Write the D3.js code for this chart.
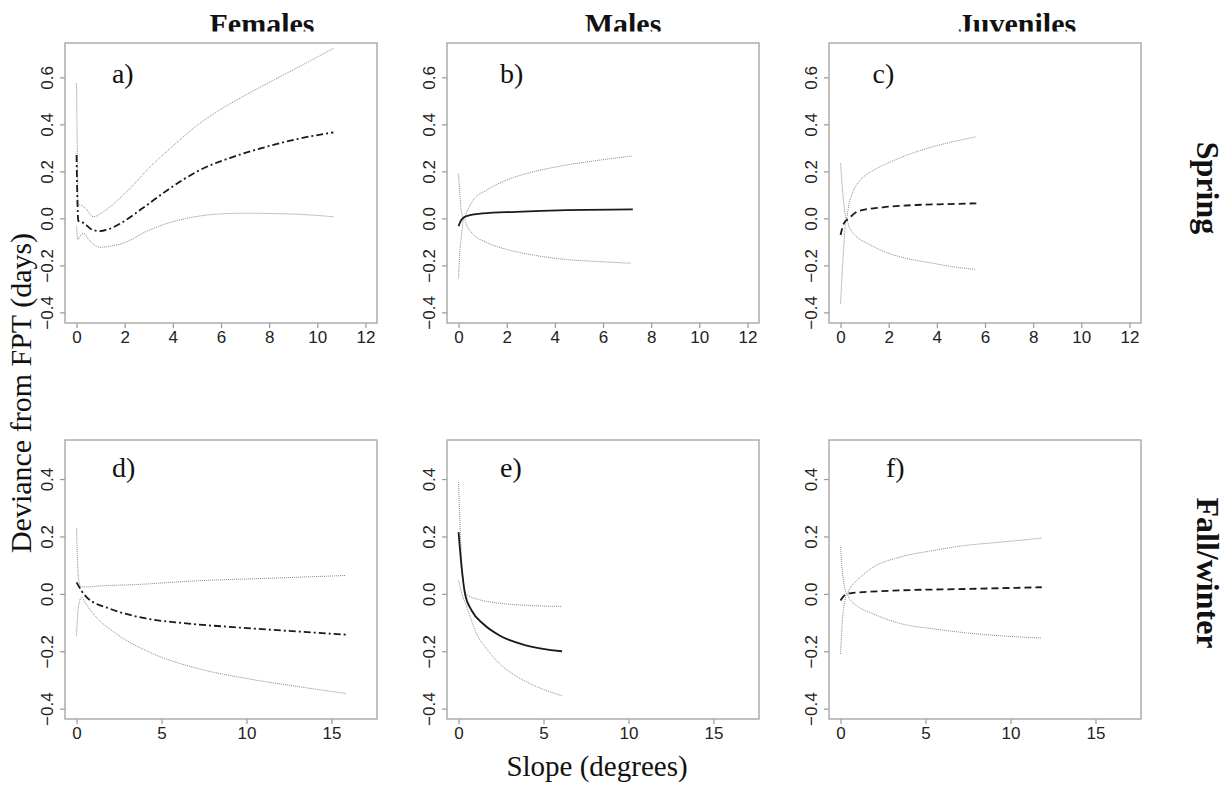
<!DOCTYPE html>
<html>
<head>
<meta charset="utf-8">
<script src="https://cdnjs.cloudflare.com/ajax/libs/d3/7.8.5/d3.min.js"></script>
<style>
  body { margin: 0; background: #fff; }
  svg { display: block; }
</style>
</head>
<body>
<svg width="1230" height="788"></svg>
<script>
// column titles / row titles
const groups = ["Females", "Males", "Juveniles"];
const seasons = ["Spring", "Fall/winter"];
const panelLetters = ["a)", "b)", "c)", "d)", "e)", "f)"];

// axis limits (R style, padded 4% on each side) and ticks per row
const xLims = [[0, 12], [0, 17]];
const yLims = [[-0.401, 0.702], [-0.4, 0.5]];
const xTicks = [[0, 2, 4, 6, 8, 10, 12], [0, 5, 10, 15]];
const yTicks = [[-0.4, -0.2, 0.0, 0.2, 0.4, 0.6], [-0.4, -0.2, 0.0, 0.2, 0.4]];

// [slope, deviance]
// a) females, spring
const aUpper = [[0, 0.575], [0.03, 0.3], [0.06, 0.06], [0.2, 0.055], [0.4, 0.04], [0.69, 0.007], [1.0, 0.02],
  [1.39, 0.049], [2.08, 0.113], [3.05, 0.218], [4.02, 0.31], [5.13, 0.405], [5.96, 0.462], [7.48, 0.55],
  [9.0, 0.632], [10.67, 0.723]];
const aFit = [[0, 0.27], [0.03, 0.1], [0.07, -0.01], [0.3, -0.02], [0.6, -0.045], [0.97, -0.054], [1.3, -0.047],
  [1.8, -0.023], [2.77, 0.045], [3.74, 0.118], [5.13, 0.206], [6.51, 0.262], [7.9, 0.305], [9.28, 0.34],
  [10.67, 0.366]];
const aLower = [[0, -0.035], [0.05, -0.09], [0.15, -0.075], [0.3, -0.064], [0.5, -0.09], [0.97, -0.123],
  [1.4, -0.118], [2.08, -0.1], [2.77, -0.062], [3.74, -0.022], [4.57, 0.0], [5.82, 0.018], [7.0, 0.022],
  [7.9, 0.021], [9.28, 0.017], [10.67, 0.007]];
// b) males, spring
const bUpper = [[0, 0.19], [0.05, 0.106], [0.12, 0.03], [0.22, 0.0], [0.35, 0.03], [0.61, 0.078], [1.16, 0.12],
  [2.0, 0.163], [3.1, 0.198], [4.49, 0.227], [5.87, 0.248], [7.19, 0.265]];
const bFit = [[0, -0.033], [0.12, -0.006], [0.33, 0.01], [1.0, 0.021], [2.38, 0.028], [4.49, 0.035], [7.24, 0.038]];
const bLower = [[0, -0.255], [0.05, -0.149], [0.13, -0.064], [0.22, 0.0], [0.35, -0.032], [0.61, -0.068],
  [1.16, -0.102], [2.0, -0.132], [3.1, -0.156], [4.49, -0.175], [5.87, -0.184], [7.19, -0.191]];
// c) juveniles, spring
const cUpper = [[0, 0.234], [0.1, 0.1], [0.24, 0.0], [0.35, 0.06], [0.5, 0.11], [0.75, 0.155], [1.07, 0.186],
  [1.5, 0.212], [1.9, 0.232], [2.73, 0.268], [3.84, 0.305], [4.67, 0.326], [5.61, 0.347]];
const cFit = [[0, -0.071], [0.14, -0.021], [0.35, 0.0], [0.72, 0.03], [1.76, 0.047], [3.15, 0.057], [4.53, 0.061],
  [5.64, 0.064]];
const cLower = [[0, -0.362], [0.1, -0.177], [0.24, 0.0], [0.35, -0.035], [0.5, -0.06], [0.75, -0.085],
  [1.07, -0.104], [1.9, -0.145], [2.73, -0.17], [3.84, -0.191], [4.67, -0.206], [5.61, -0.217]];
// d) females, fall/winter
const dUpper = [[0, 0.227], [0.1, 0.06], [0.25, 0.025], [0.5, 0.024], [1.5, 0.028], [3.34, 0.032], [7.27, 0.046],
  [11.19, 0.054], [15.84, 0.064]];
const dFit = [[0, 0.04], [0.3, 0.01], [0.6, -0.012], [1.97, -0.052], [3.93, -0.084], [6.28, -0.102],
  [9.23, -0.116], [12.17, -0.128], [15.84, -0.142]];
const dLower = [[0, -0.146], [0.1, -0.05], [0.3, -0.012], [0.5, -0.03], [0.99, -0.07], [2.36, -0.14],
  [4.32, -0.204], [7.27, -0.262], [10.21, -0.297], [13.15, -0.324], [15.84, -0.347]];
// e) males, fall/winter
const eUpper = [[0, 0.39], [0.1, 0.22], [0.25, 0.06], [0.45, 0.0], [0.7, -0.01], [1.07, -0.018], [2.44, -0.033],
  [4.4, -0.041], [6.09, -0.044]];
const eFit = [[0, 0.215], [0.18, 0.093], [0.38, 0.0], [0.77, -0.058], [1.46, -0.105], [2.44, -0.146],
  [4.01, -0.18], [6.09, -0.2]];
const eLower = [[0, 0.046], [0.2, 0.0], [0.45, -0.04], [1.07, -0.14], [1.7, -0.195], [2.44, -0.245],
  [3.3, -0.283], [4.4, -0.318], [6.09, -0.355]];
// f) juveniles, fall/winter
const fUpper = [[0, 0.163], [0.1, 0.08], [0.25, 0.02], [0.36, 0.0], [0.55, 0.02], [0.95, 0.046], [1.93, 0.093],
  [3.5, 0.128], [5.46, 0.151], [7.42, 0.169], [9.39, 0.18], [11.84, 0.194]];
const fFit = [[0, -0.023], [0.25, -0.004], [0.55, 0.002], [3.5, 0.012], [7.42, 0.017], [11.84, 0.023]];
const fLower = [[0, -0.209], [0.1, -0.1], [0.25, -0.025], [0.36, 0.0], [0.55, -0.02], [0.95, -0.041],
  [1.93, -0.07], [3.5, -0.103], [5.46, -0.122], [7.42, -0.136], [9.39, -0.146], [11.84, -0.154]];

// where the panel letter sits, in data units
const letterPos = [[1.47, 0.576], [1.72, 0.576], [1.33, 0.576], [2.09, 0.406], [2.44, 0.406], [2.67, 0.406]];

const panels = [
  { upper: aUpper, fit: aFit, lower: aLower, style: "dashdot" },
  { upper: bUpper, fit: bFit, lower: bLower, style: "solid" },
  { upper: cUpper, fit: cFit, lower: cLower, style: "dashed" },
  { upper: dUpper, fit: dFit, lower: dLower, style: "dashdot" },
  { upper: eUpper, fit: eFit, lower: eLower, style: "solid" },
  { upper: fUpper, fit: fFit, lower: fLower, style: "dashed" }
];

const svg = d3.select("svg");

const colLeft = [65, 447, 829];
const rowTop = [43, 440];
const rowHeight = [280, 279];
const panelWidth = 312;

const pad = lim => {
  const r = lim[1] - lim[0];
  return [lim[0] - 0.04 * r, lim[1] + 0.04 * r];
};

const dashes = { solid: null, dashed: "7,4", dashdot: "7,3,2,3" };

panels.forEach((p, i) => {
  const row = Math.floor(i / 3), col = i % 3;
  const x0 = colLeft[col], y0 = rowTop[row], h = rowHeight[row];

  const x = d3.scaleLinear().domain(pad(xLims[row])).range([0, panelWidth]);
  const y = d3.scaleLinear().domain(pad(yLims[row])).range([h, 0]);

  const g = svg.append("g").attr("transform", `translate(${x0},${y0})`);

  // x axis
  const xa = g.append("g")
    .attr("transform", `translate(0,${h})`)
    .call(d3.axisBottom(x).tickValues(xTicks[row]).tickSize(5).tickPadding(3).tickFormat(d3.format("d")));
  // y axis, labels parallel to the axis like R
  const ya = g.append("g")
    .call(d3.axisLeft(y).tickValues(yTicks[row]).tickSize(5).tickFormat(d3.format(".1f")));
  ya.selectAll("text")
    .attr("x", 0).attr("dy", 0)
    .attr("text-anchor", "middle")
    .attr("transform", "translate(-12,0) rotate(-90)");

  [xa, ya].forEach(a => {
    a.select(".domain").remove();
    a.selectAll("line").attr("stroke", "#999").attr("stroke-width", 1.2);
    a.selectAll("text")
      .attr("fill", "#222")
      .style("font-family", "'Liberation Sans', Arial, sans-serif")
      .style("font-size", "17px");
  });

  const line = d3.line()
    .x(d => x(d[0]))
    .y(d => y(d[1]))
    .curve(d3.curveMonotoneX);

  [p.upper, p.lower].forEach(ci => {
    g.append("path")
      .attr("d", line(ci))
      .attr("fill", "none")
      .attr("stroke", "#8a8a8a")
      .attr("stroke-width", 1)
      .attr("stroke-dasharray", "1,1");
  });

  g.append("path")
    .attr("d", line(p.fit))
    .attr("fill", "none")
    .attr("stroke", "#1a1a1a")
    .attr("stroke-width", 1.8)
    .attr("stroke-dasharray", dashes[p.style]);

  // box
  g.append("rect")
    .attr("x", 0).attr("y", 0)
    .attr("width", panelWidth).attr("height", h)
    .attr("fill", "none")
    .attr("stroke", "#a0a0a0")
    .attr("stroke-width", 1.3);

  g.append("text")
    .attr("x", x(letterPos[i][0]))
    .attr("y", y(letterPos[i][1]))
    .style("font-family", "'Liberation Serif', 'DejaVu Serif', serif")
    .style("font-size", "28px")
    .attr("fill", "#111")
    .text(panelLetters[i]);
});

// column titles, cut at the top like the source figure
svg.append("clipPath").attr("id", "titleClip")
  .append("rect").attr("x", 0).attr("y", 0).attr("width", 1230).attr("height", 31.5);
const titleX = [262, 623, 1017];
svg.append("g").attr("clip-path", "url(#titleClip)")
  .selectAll("text")
  .data(groups)
  .join("text")
  .attr("x", (d, i) => titleX[i])
  .attr("y", 34)
  .attr("text-anchor", "middle")
  .style("font-family", "'Liberation Serif', 'DejaVu Serif', serif")
  .style("font-weight", "bold")
  .style("font-size", "30px")
  .attr("fill", "#111")
  .text(d => d);

// row titles on the right
const seasonY = [188, 573];
svg.selectAll(".season")
  .data(seasons)
  .join("text")
  .attr("class", "season")
  .attr("text-anchor", "middle")
  .attr("transform", (d, i) => `translate(1197,${seasonY[i]}) rotate(90)`)
  .style("font-family", "'Liberation Serif', 'DejaVu Serif', serif")
  .style("font-weight", "bold")
  .style("font-size", "32px")
  .attr("fill", "#111")
  .text(d => d);

// shared axis titles
svg.append("text")
  .attr("text-anchor", "middle")
  .attr("transform", "translate(31,393) rotate(-90)")
  .style("font-family", "'Liberation Serif', 'DejaVu Serif', serif")
  .style("font-size", "30px")
  .attr("fill", "#111")
  .text("Deviance from FPT (days)");

svg.append("text")
  .attr("x", 597)
  .attr("y", 776)
  .attr("text-anchor", "middle")
  .style("font-family", "'Liberation Serif', 'DejaVu Serif', serif")
  .style("font-size", "29px")
  .attr("fill", "#111")
  .text("Slope (degrees)");
</script>
</body>
</html>
